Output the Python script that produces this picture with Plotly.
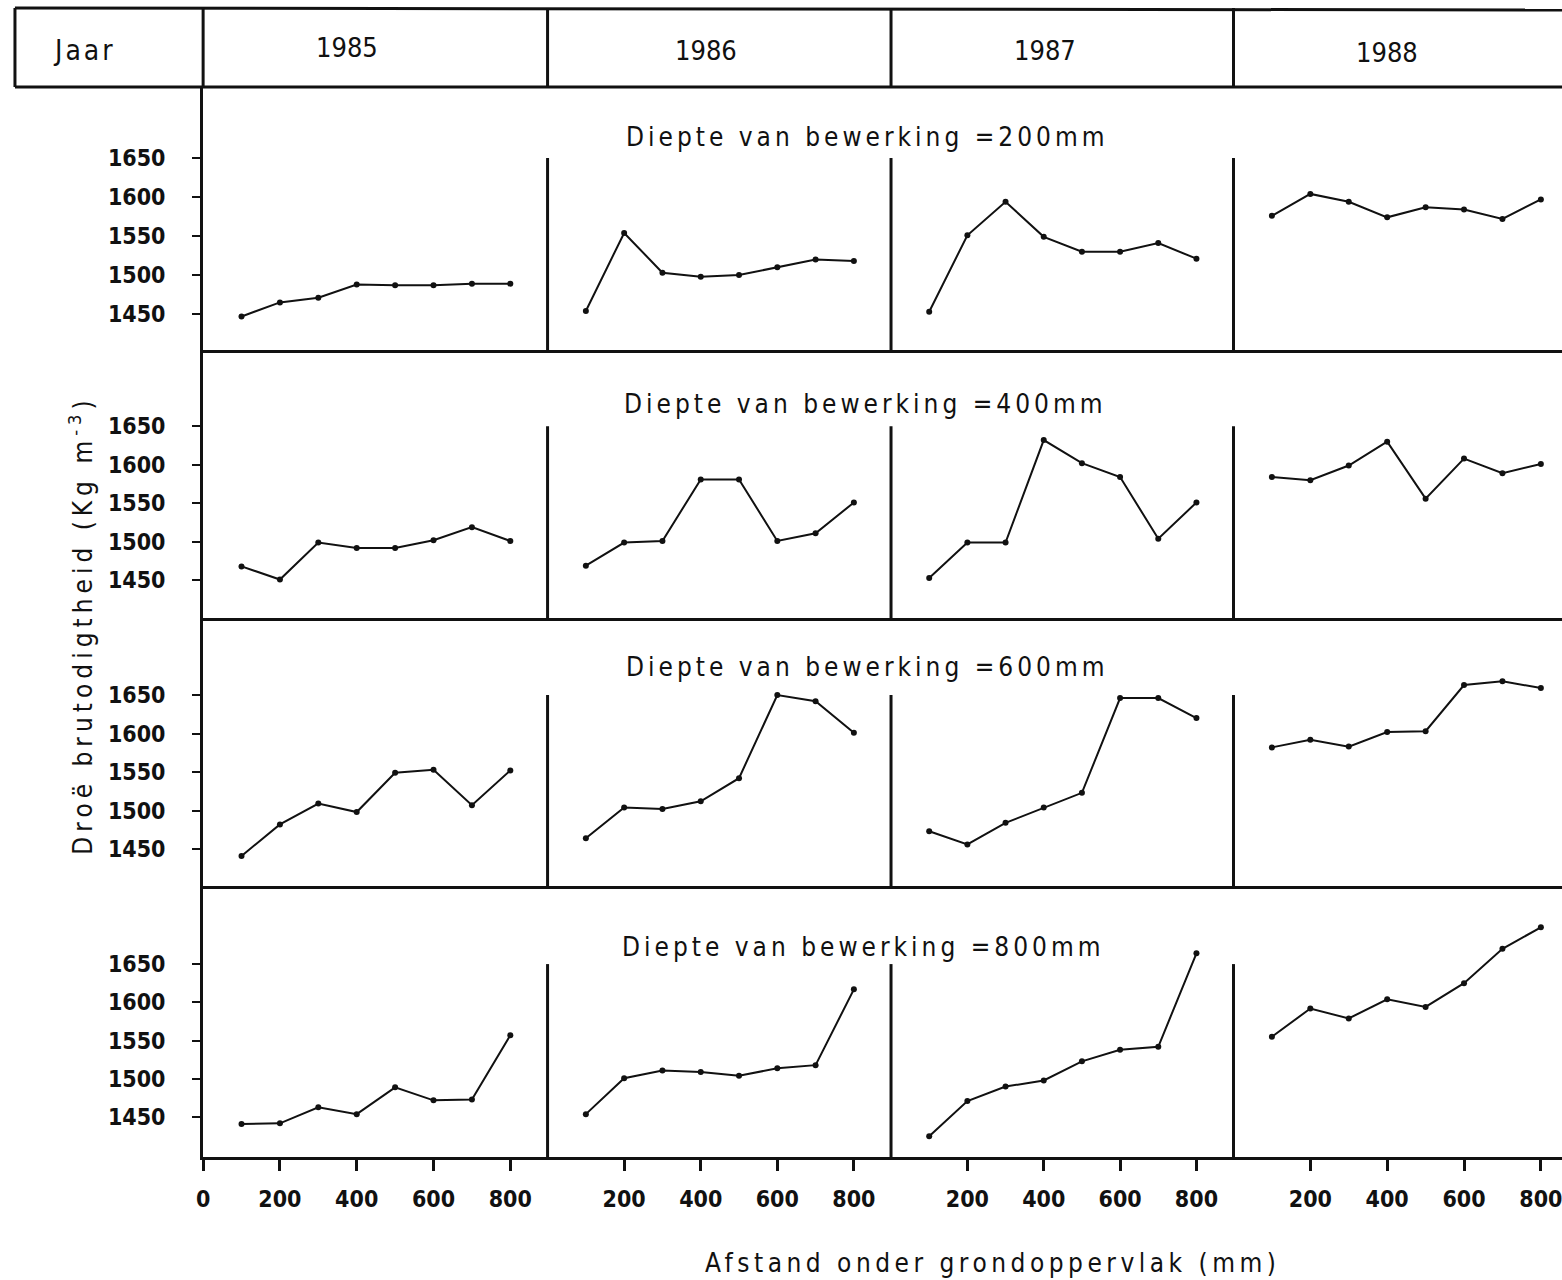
import plotly.graph_objects as go

W, H = 1562, 1280

# ---------------- data ----------------
years = ["1985", "1986", "1987", "1988"]
depth_titles = ["Diepte van bewerking =200mm", "Diepte van bewerking =400mm",
                "Diepte van bewerking =600mm", "Diepte van bewerking =800mm"]
distance_mm = [100, 200, 300, 400, 500, 600, 700, 800]

d200_1985 = [1447, 1465, 1471, 1488, 1487, 1487, 1489, 1489]
d200_1986 = [1454, 1554, 1503, 1498, 1500, 1510, 1520, 1518]
d200_1987 = [1453, 1551, 1594, 1549, 1530, 1530, 1541, 1521]
d200_1988 = [1576, 1604, 1594, 1574, 1587, 1584, 1572, 1597]

d400_1985 = [1468, 1451, 1499, 1492, 1492, 1502, 1519, 1501]
d400_1986 = [1469, 1499, 1501, 1581, 1581, 1501, 1511, 1551]
d400_1987 = [1453, 1499, 1499, 1632, 1602, 1584, 1504, 1551]
d400_1988 = [1584, 1580, 1599, 1630, 1556, 1608, 1589, 1601]

d600_1985 = [1441, 1482, 1509, 1498, 1549, 1553, 1507, 1552]
d600_1986 = [1464, 1504, 1502, 1512, 1542, 1650, 1642, 1601]
d600_1987 = [1473, 1456, 1484, 1504, 1523, 1646, 1646, 1620]
d600_1988 = [1582, 1592, 1583, 1602, 1603, 1663, 1668, 1659]

d800_1985 = [1441, 1442, 1463, 1454, 1489, 1472, 1473, 1557]
d800_1986 = [1454, 1501, 1511, 1509, 1504, 1514, 1518, 1617]
d800_1987 = [1425, 1471, 1490, 1498, 1523, 1538, 1542, 1664]
d800_1988 = [1555, 1592, 1579, 1604, 1594, 1625, 1670, 1698]

y_ticks = [1450, 1500, 1550, 1600, 1650]
x_ticks_first = [0, 200, 400, 600, 800]
x_ticks_other = [200, 400, 600, 800]

series = [
    [d200_1985, d200_1986, d200_1987, d200_1988],
    [d400_1985, d400_1986, d400_1987, d400_1988],
    [d600_1985, d600_1986, d600_1987, d600_1988],
    [d800_1985, d800_1986, d800_1987, d800_1988],
]

# ---------------- layout geometry (pixels) ----------------
col_px = [(197, 543), (543, 888), (888, 1232), (1232, 1562)]
row_px = [(87, 350), (350, 618), (618, 886), (886, 1157)]
x_ranges = [[0, 897], [0, 897], [0, 897], [0, 855]]
y_ranges = [[1404, 1741], [1401, 1749], [1402, 1750], [1398, 1752]]


def fx(px):
    return px / W


def fy(py):
    return 1 - py / H


FONT = "DejaVu Sans Condensed, DejaVu Sans, sans-serif"
BLACK = "#111111"

fig = go.Figure()
layout = dict(
    width=W, height=H,
    margin=dict(l=0, r=0, t=0, b=0),
    paper_bgcolor="white", plot_bgcolor="rgba(0,0,0,0)",
    showlegend=False,
    font=dict(family=FONT, color=BLACK),
)
shapes = []
annotations = []

for r in range(4):
    for c in range(4):
        k = r * 4 + c + 1
        xs = "" if k == 1 else str(k)
        xname, yname = "x" + xs, "y" + xs
        fig.add_trace(go.Scatter(
            x=distance_mm, y=series[r][c], xaxis=xname, yaxis=yname,
            mode="lines+markers",
            line=dict(color=BLACK, width=2),
            marker=dict(color=BLACK, size=6),
            hoverinfo="skip",
        ))
        bottom = r == 3
        xa = dict(
            domain=[fx(col_px[c][0]), fx(col_px[c][1])],
            range=x_ranges[c], anchor=yname,
            showgrid=False, zeroline=False,
            showline=True, linecolor=BLACK, linewidth=3,
            showticklabels=bottom,
        )
        if bottom:
            xa.update(
                ticks="outside", ticklen=11, tickwidth=3, tickcolor=BLACK,
                tickvals=x_ticks_first if c == 0 else x_ticks_other,
                tickfont=dict(family=FONT, size=23, color=BLACK, weight="bold"),
                ticklabelstandoff=8, ticklabeloverflow="allow",
            )
        else:
            xa.update(ticks="", showticklabels=False)
        ya = dict(
            domain=[fy(row_px[r][1]), fy(row_px[r][0])],
            range=y_ranges[r], anchor=xname,
            showgrid=False, zeroline=False,
            showline=(c == 0), linecolor=BLACK, linewidth=3,
        )
        if c == 0:
            ya.update(
                ticks="outside", ticklen=8, tickwidth=2, tickcolor=BLACK,
                tickvals=y_ticks, showticklabels=True,
                tickfont=dict(family=FONT, size=23, color=BLACK, weight="bold"),
                ticklabelstandoff=22,
            )
        else:
            ya.update(ticks="", showticklabels=False)
        layout["xaxis" + xs] = xa
        layout["yaxis" + xs] = ya
        if c > 0:
            # vertical divider from the top tick down to the panel bottom
            shapes.append(dict(
                type="line", xref=xname + " domain", yref=yname,
                x0=0, x1=0, y0=y_ranges[r][0], y1=y_ticks[-1],
                line=dict(color=BLACK, width=3),
            ))

# header box
hdr_top, hdr_bot = 8, 87
line = dict(color=BLACK, width=3)
shapes.append(dict(type="line", xref="paper", yref="paper",
                   x0=fx(8), x1=fx(W), y0=fy(hdr_top), y1=fy(hdr_top + 2), line=line))
shapes.append(dict(type="line", xref="paper", yref="paper",
                   x0=fx(8), x1=fx(W), y0=fy(hdr_bot), y1=fy(hdr_bot), line=line))
for xpx in [8, 197, 543, 888, 1232]:
    shapes.append(dict(type="line", xref="paper", yref="paper",
                       x0=fx(xpx), x1=fx(xpx), y0=fy(hdr_top), y1=fy(hdr_bot), line=line))


def ann(text, px, py, size=26, angle=0):
    return dict(text=text, x=fx(px), y=fy(py), xref="paper", yref="paper",
                xanchor="center", yanchor="middle", showarrow=False,
                textangle=angle, font=dict(size=size, family=FONT, color=BLACK))


# header texts
annotations.append(ann('<span style="letter-spacing:3px">Jaar</span>', 78, 50, 28))
year_pos = [(342, 48), (702, 50), (1043, 50), (1386, 53)]
for yr, (px, py) in zip(years, year_pos):
    annotations.append(ann(yr, px, py, 27))

# row titles
title_pos = [(864, 137), (862, 404), (864, 667), (860, 947)]
for t, (px, py) in zip(depth_titles, title_pos):
    annotations.append(ann('<span style="letter-spacing:4px">' + t + '</span>', px, py, 26))

# axis titles
annotations.append(ann(
    '<span style="letter-spacing:5px">Droë brutodigtheid (Kg m<sup>-3</sup>)</span>',
    74, 625, 26, -90))
annotations.append(ann(
    '<span style="letter-spacing:4.5px">Afstand onder grondoppervlak (mm)</span>',
    990, 1263, 26))

layout["shapes"] = shapes
layout["annotations"] = annotations
fig.update_layout(**layout)
fig.write_html("out.html")
